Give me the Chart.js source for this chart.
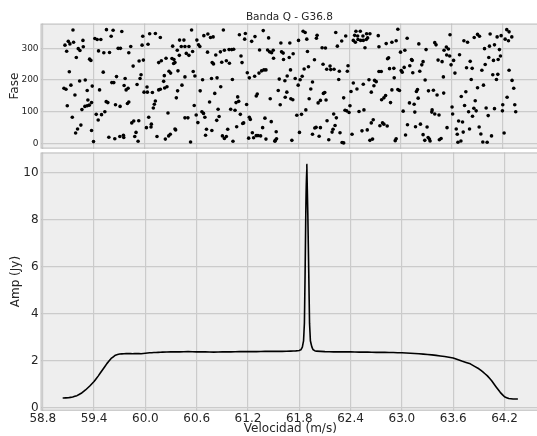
<!DOCTYPE html>
<html>
<head>
<meta charset="utf-8">
<script src="https://cdn.jsdelivr.net/npm/chart.js@4.4.1/dist/chart.umd.min.js"></script>
<style>
  html, body { margin: 0; padding: 0; background: #ffffff; overflow: hidden; width: 537px; height: 436px; }
  #wrap { position: relative; width: 537px; height: 436px; overflow: hidden; }
  #wrap canvas { position: absolute; left: 0; top: 0; }
</style>
</head>
<body>
<div id="wrap">
  <canvas id="cAmp" width="540" height="436"></canvas>
  <canvas id="cFase" width="540" height="156"></canvas>
</div>
<script>
// Velocity axis (shared by both panels)
const velTicks = [58.8, 59.4, 60.0, 60.6, 61.2, 61.8, 62.4, 63.0, 63.6, 64.2];
const velMin = 58.775;
const velMax = 64.615;

// Phase panel
const faseTicks = [0, 100, 200, 300];
const faseVel = [
  59.155,59.548,59.626,59.728,59.603,59.412,59.439,59.482,59.100,59.119,59.162,59.061,59.272,59.217,59.237,59.276,
  59.081,59.455,59.517,59.584,59.685,59.712,59.833,59.810,59.194,59.350,59.365,59.861,59.112,59.510,59.666,59.767,
  59.233,59.299,59.131,59.049,59.073,59.381,59.611,59.634,59.755,59.802,59.779,59.322,59.467,59.178,59.330,59.545,
  59.564,59.654,59.708,59.810,59.794,59.373,59.088,59.295,59.322,59.346,59.260,59.529,59.490,59.428,59.147,59.451,
  59.868,59.845,59.248,59.209,59.186,59.373,59.576,59.646,59.705,59.747,59.751,59.880,59.396,
  60.055,60.122,60.180,59.974,59.966,60.036,60.325,60.406,60.457,60.426,60.379,60.469,60.516,60.547,60.609,60.629,
  60.644,60.691,60.738,60.769,60.800,60.734,60.559,60.485,60.516,60.403,60.340,60.317,60.247,60.192,60.161,59.931,
  59.981,60.336,60.352,60.282,60.301,60.387,60.566,60.586,60.789,60.804,59.954,59.942,60.227,60.219,59.907,60.024,
  60.258,60.231,60.180,60.161,60.469,60.434,60.383,60.368,60.676,60.781,60.648,60.758,59.989,60.028,60.087,60.122,
  60.110,60.098,60.578,60.668,60.687,60.703,60.601,60.621,60.469,60.504,60.270,60.044,60.075,60.071,60.017,59.927,
  59.895,59.919,60.352,60.360,60.722,60.711,60.785,60.297,60.278,60.239,60.141,60.535,
  60.920,61.108,61.178,61.170,61.291,61.388,61.451,61.252,61.595,61.700,60.885,60.932,60.987,61.018,61.041,60.831,
  61.345,61.439,61.462,61.486,61.505,61.603,61.622,61.739,61.127,61.509,61.626,61.693,60.955,60.991,60.901,61.139,
  61.201,61.225,61.287,61.338,61.369,61.396,61.420,61.708,61.669,61.576,61.642,60.846,61.026,60.889,61.564,61.646,
  61.665,61.712,61.735,60.819,61.088,61.100,61.069,61.318,61.306,61.470,61.193,61.587,60.858,61.006,61.057,61.119,
  60.870,60.842,61.225,61.236,61.408,61.482,61.158,61.147,61.076,60.971,61.381,61.540,61.260,61.326,61.306,61.357,
  60.909,60.932,60.955,61.275,61.033,61.217,61.420,61.529,61.544,61.525,61.724,
  61.856,61.880,61.802,61.899,62.020,62.012,62.239,62.356,62.309,62.258,62.476,62.527,62.461,62.496,62.558,62.601,
  62.445,62.469,62.500,62.531,62.562,62.597,62.613,62.640,62.582,62.079,62.118,61.907,61.989,62.090,62.172,62.180,
  62.133,62.219,62.281,62.383,62.375,61.919,61.868,61.763,61.821,61.845,62.274,61.966,62.445,62.562,62.629,61.798,
  62.418,62.488,62.656,61.946,62.094,62.110,61.927,62.059,62.032,62.125,62.332,62.406,62.348,62.367,62.395,62.512,
  62.570,61.888,61.837,61.782,62.215,62.246,62.137,62.231,62.207,62.196,62.289,62.059,61.993,62.008,61.966,61.813,
  62.044,62.157,62.313,62.332,62.430,62.547,62.609,62.656,62.679,62.640,62.671,
  62.738,62.968,62.746,62.831,62.898,62.948,63.077,63.214,63.401,63.416,63.580,62.999,63.050,63.299,63.510,63.537,
  63.561,63.541,63.576,62.859,62.847,63.128,63.136,63.264,63.249,63.440,63.487,63.592,63.108,63.042,63.019,63.007,
  62.870,62.921,62.746,62.773,63.143,63.225,62.925,63.502,62.695,62.714,63.288,62.687,62.898,62.968,62.987,63.186,
  63.198,63.327,63.385,63.428,63.506,62.824,62.804,62.777,63.206,63.104,63.159,62.882,63.370,63.366,63.401,63.451,
  63.604,63.611,63.030,63.167,62.788,62.804,62.843,62.757,63.081,63.175,63.233,63.311,63.545,63.058,62.948,62.937,
  63.264,63.284,63.323,63.338,63.346,63.455,63.475,
  63.743,63.786,63.864,63.903,63.926,64.051,64.133,64.180,64.227,64.246,64.273,64.305,64.266,64.043,64.102,63.985,
  64.160,63.692,63.622,63.817,63.774,63.840,63.993,64.035,64.090,64.145,64.172,63.954,64.082,64.141,64.273,64.125,
  63.829,64.308,63.638,63.903,63.973,64.328,63.766,63.712,63.876,64.250,63.751,63.798,63.860,63.887,64.004,64.102,
  64.199,64.340,64.351,64.195,63.844,64.028,63.727,63.681,63.809,63.922,63.653,63.735,63.665,64.215,63.942,64.067,
  63.673,63.708,63.965,64.016
];
const faseDeg = [
  358,359,357,353,338,331,328,328,322,314,319,310,325,299,293,305,
  291,292,286,287,300,300,306,286,271,266,262,244,226,225,211,205,
  197,200,184,174,171,181,192,192,183,174,169,167,169,153,137,132,
  129,122,117,131,126,129,119,117,119,121,107,100,91,92,83,74,
  71,65,58,46,33,41,20,15,22,26,19,22,6,
  346,347,334,338,310,313,307,326,326,306,294,306,306,358,326,311,
  306,340,345,334,336,288,290,284,278,278,265,268,269,261,255,260,
  263,252,255,228,222,229,227,213,255,251,217,205,214,196,186,178,
  179,175,171,169,210,184,166,144,201,205,166,131,162,162,161,134,
  124,112,120,100,95,83,90,66,81,81,96,83,61,52,50,72,
  35,7,46,43,45,26,41,29,24,14,22,5,
  358,343,347,329,337,356,333,322,317,317,289,294,296,296,297,279,
  295,295,289,286,294,289,285,283,276,269,265,271,261,253,256,255,
  223,207,212,222,229,232,232,232,213,203,198,207,202,179,167,146,
  162,141,138,158,147,133,129,156,150,141,123,122,108,108,105,92,
  85,73,83,76,80,69,65,63,53,45,50,37,34,25,25,24,
  24,16,22,18,7,17,14,10,15,7,10,
  354,350,325,329,341,332,350,339,323,307,354,354,341,339,339,346,
  325,319,328,325,325,328,333,346,302,302,301,290,264,250,244,233,
  234,234,228,245,228,242,235,205,201,212,202,194,191,187,201,184,
  164,172,162,172,158,161,141,136,128,137,144,119,105,103,98,101,
  106,106,92,89,93,81,72,57,45,36,34,50,49,51,29,35,
  23,12,3,2,29,40,43,65,75,10,14,
  340,360,305,315,319,324,332,314,318,311,343,288,294,296,294,304,
  298,279,276,270,267,265,262,258,248,263,258,248,245,240,225,230,
  236,237,227,227,223,228,207,210,199,195,200,182,169,170,167,164,
  170,166,168,153,159,151,144,138,143,128,124,129,106,99,93,90,
  115,93,102,99,65,61,55,56,59,53,61,52,50,27,15,9,
  28,10,19,14,8,12,16,
  324,319,334,344,338,345,336,340,329,359,352,336,324,307,311,299,
  296,280,262,259,239,237,249,271,262,265,276,231,217,218,231,202,
  202,199,222,176,184,174,163,148,135,146,120,100,111,103,112,110,
  122,122,100,103,86,88,68,71,46,52,46,36,29,33,30,24,
  4,8,5,4
];

// Amplitude panel
const ampTicks = [0, 2, 4, 6, 8, 10];
const ampVel = [
  59.04, 59.10, 59.15, 59.20, 59.25, 59.30, 59.35, 59.40, 59.45, 59.50, 59.55, 59.60, 59.65, 59.70, 59.75, 59.80,
  59.85, 59.90, 59.95, 60.00, 60.05, 60.10, 60.15, 60.20, 60.30, 60.40, 60.50, 60.60, 60.70, 60.80, 60.90, 61.00,
  61.10, 61.20, 61.30, 61.40, 61.50, 61.60, 61.70, 61.76, 61.80, 61.82, 61.836, 61.85, 61.86, 61.868, 61.876,
  61.888, 61.900, 61.911, 61.920, 61.930, 61.946, 61.96, 61.98, 62.00, 62.10, 62.20, 62.30, 62.40, 62.50,
  62.60, 62.70, 62.80, 62.90, 63.00, 63.10, 63.20, 63.30, 63.40, 63.50, 63.60, 63.70, 63.80, 63.90, 63.95, 64.00,
  64.05, 64.10, 64.15, 64.20, 64.25, 64.30, 64.35
];
const ampJy = [
  0.42, 0.43, 0.46, 0.52, 0.62, 0.76, 0.93, 1.12, 1.36, 1.62, 1.88, 2.10, 2.24, 2.29, 2.30, 2.31,
  2.30, 2.31, 2.30, 2.32, 2.34, 2.35, 2.36, 2.37, 2.38, 2.38, 2.39, 2.38, 2.38, 2.37, 2.38, 2.38,
  2.39, 2.39, 2.39, 2.40, 2.40, 2.40, 2.41, 2.42, 2.44, 2.47, 2.58, 2.85, 3.60, 5.70, 8.20,
  10.35, 8.20, 5.70, 3.60, 2.85, 2.60, 2.48, 2.43, 2.41, 2.39, 2.38, 2.38, 2.38, 2.37,
  2.37, 2.36, 2.36, 2.35, 2.34, 2.32, 2.30, 2.27, 2.23, 2.18, 2.12, 1.99, 1.87, 1.66, 1.52, 1.36,
  1.15, 0.90, 0.66, 0.47, 0.40, 0.38, 0.38
];

const FONT = 'DejaVu Sans';
const TEXT = '#262626';
const GRID = '#cbcbcb';

// Grey panel background and frame
const panelBg = {
  id: 'panelBg',
  beforeDraw(chart) {
    const { ctx, chartArea: a } = chart;
    ctx.save();
    ctx.fillStyle = '#eeeeee';
    ctx.fillRect(a.left, a.top, a.right - a.left, a.bottom - a.top);
    ctx.restore();
  },
  beforeDatasetsDraw(chart) {
    const { ctx, chartArea: a } = chart;
    ctx.save();
    ctx.strokeStyle = '#bcbcbc';
    ctx.lineWidth = 1;
    ctx.strokeRect(a.left + 0.5, a.top + 0.5, a.right - a.left - 1, a.bottom - a.top - 1);
    ctx.restore();
  }
};

function fixedTicks(list) {
  return scale => { scale.ticks = list.map(v => ({ value: v })); };
}

const velScaleBase = {
  type: 'linear',
  min: velMin,
  max: velMax,
  afterBuildTicks: fixedTicks(velTicks),
  grid: { color: GRID, lineWidth: 1.2, drawTicks: false },
  border: { display: false }
};

// Phase panel (top)
new Chart(document.getElementById('cFase'), {
  type: 'scatter',
  data: {
    datasets: [{
      data: faseVel.map((v, i) => ({ x: v, y: faseDeg[i] })),
      pointRadius: 1.8,
      pointHoverRadius: 1.8,
      pointBackgroundColor: '#000000',
      pointBorderWidth: 0,
      showLine: false
    }]
  },
  options: {
    responsive: false,
    animation: false,
    events: [],
    layout: { padding: { left: 0, right: 0, top: 0, bottom: 3.5 } },
    plugins: {
      legend: { display: false },
      tooltip: { enabled: false },
      title: {
        display: true,
        text: 'Banda Q - G36.8',
        fullSize: false,
        color: TEXT,
        font: { family: FONT, size: 10.5, weight: 'normal' },
        padding: { top: 11, bottom: 0 }
      }
    },
    scales: {
      x: Object.assign({}, velScaleBase, {
        ticks: { display: false },
        afterFit: s => { s.height = 0; }
      }),
      y: {
        type: 'linear',
        min: -16,
        max: 378,
        afterBuildTicks: fixedTicks(faseTicks),
        afterFit: s => { s.width = 40.6; },
        grid: { color: GRID, lineWidth: 1.2, drawTicks: false },
        border: { display: false },
        ticks: { color: TEXT, font: { family: FONT, size: 9 }, padding: 2 },
        title: {
          display: true,
          text: 'Fase',
          color: TEXT,
          font: { family: FONT, size: 12 },
          padding: { top: 8, bottom: 0 }
        }
      }
    }
  },
  plugins: [panelBg]
});

// Amplitude panel (bottom); a very small tension keeps segments straight
// while drawing every vertex of the narrow line exactly.
new Chart(document.getElementById('cAmp'), {
  type: 'line',
  data: {
    datasets: [{
      data: ampVel.map((v, i) => ({ x: v, y: ampJy[i] })),
      borderColor: '#000000',
      borderWidth: 1.6,
      borderJoinStyle: 'round',
      borderCapStyle: 'round',
      pointRadius: 0,
      tension: 0.0001,
      fill: false
    }]
  },
  options: {
    responsive: false,
    animation: false,
    events: [],
    layout: { padding: { left: 0, right: 0, top: 152.5, bottom: 0 } },
    plugins: { legend: { display: false }, tooltip: { enabled: false } },
    scales: {
      x: Object.assign({}, velScaleBase, {
        afterFit: s => { s.height = 25.3; },
        ticks: {
          color: TEXT,
          font: { family: FONT, size: 12 },
          padding: 1,
          maxRotation: 0,
          autoSkip: false,
          callback: v => Number(v).toFixed(1)
        },
        title: {
          display: true,
          text: 'Velocidad (m/s)',
          color: TEXT,
          font: { family: FONT, size: 12 },
          padding: { top: 0, bottom: 0 }
        }
      }),
      y: {
        type: 'linear',
        min: -0.12,
        max: 10.85,
        afterBuildTicks: fixedTicks(ampTicks),
        afterFit: s => { s.width = 40.6; },
        grid: { color: GRID, lineWidth: 1.2, drawTicks: false },
        border: { display: false },
        ticks: { color: TEXT, font: { family: FONT, size: 12 }, padding: 2 },
        title: {
          display: true,
          text: 'Amp (Jy)',
          color: TEXT,
          font: { family: FONT, size: 12 },
          padding: { top: 9, bottom: 0 }
        }
      }
    }
  },
  plugins: [panelBg]
});
</script>
</body>
</html>
